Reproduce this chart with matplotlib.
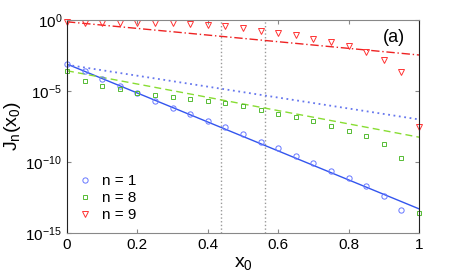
import numpy as np
import matplotlib
matplotlib.use("Agg")
import matplotlib.pyplot as plt

plt.rcParams['font.family'] = ['Liberation Sans', 'DejaVu Sans']
plt.rcParams['mathtext.default'] = 'regular'

x = [0, 0.05, 0.1, 0.15, 0.2, 0.25, 0.3, 0.35, 0.4, 0.45, 0.5, 0.55, 0.6,
     0.65, 0.7, 0.75, 0.8, 0.85, 0.9, 0.95, 1.0]
# log10 values
logJ1 = [-3.1, -3.6, -4.15, -4.65, -5.15, -5.67, -6.16, -6.6, -7.1, -7.53,
         -8.03, -8.57, -9.04, -9.55, -10.07, -10.6, -11.13, -11.7, -12.37, -13.36]
x1 = x[:20]
logJ8 = [-3.6, -4.3, -4.67, -4.88, -5.12, -5.28, -5.44, -5.56, -5.7, -5.87,
         -6.03, -6.34, -6.62, -6.83, -7.13, -7.44, -7.8, -8.19, -8.76, -9.7, -13.57]
logJ9 = [-0.12, -0.19, -0.19, -0.2, -0.2, -0.22, -0.24, -0.3, -0.33, -0.42,
         -0.56, -0.75, -0.92, -1.08, -1.32, -1.57, -1.85, -2.25, -2.82, -3.68, -7.53]

line_x = [0, 1]
fit1 = [-3.1, -13.3]
fit1_dotted = [-3.15, -7.0]
fit8 = [-3.57, -8.25]
fit9 = [-0.12, -2.46]
vlines = [0.4375, 0.5625]

blue = '#3355ee'
red = '#ee2222'

fig = plt.figure(figsize=(4.63, 2.79), dpi=100)
ax = fig.add_axes([0.1447, 0.165, 0.7603, 0.763])

for v in vlines:
    ax.axvline(v, color='#999999', linestyle=':', linewidth=1.0)

ax.plot(line_x, 10 ** np.array(fit1), color=blue, linewidth=1.0)
ax.plot(line_x, 10 ** np.array(fit1_dotted), color='#6677ee', linestyle=(0, (1, 2)), linewidth=1.3)
ax.plot(line_x, 10 ** np.array(fit8), color='#88dd33', linestyle=(0, (5, 3)), linewidth=1.0)
ax.plot(line_x, 10 ** np.array(fit9), color=red, linestyle=(0, (6, 2, 1, 2)), linewidth=1.0)

ax.plot(x1, 10 ** np.array(logJ1), 'o', mfc='none', mec='#6677ff', ms=3.8, mew=0.7, label='n = 1', clip_on=False)
ax.plot(x, 10 ** np.array(logJ8), 's', mfc='none', mec='#55bb33', ms=3.3, mew=0.7, label='n = 8', clip_on=False)
ax.plot(x, 10 ** np.array(logJ9), 'v', mfc='none', mec='#ff3333', ms=4.2, mew=0.7, label='n = 9', clip_on=False)

ax.set_yscale('log')
ax.set_xlim(0, 1)
ax.set_ylim(1e-15, 1e0)
ax.set_yticks([1e-15, 1e-10, 1e-5, 1e0])
ax.minorticks_off()
ax.set_xticks([0, 0.2, 0.4, 0.6, 0.8, 1])
ax.set_xticklabels(['0', '0.2', '0.4', '0.6', '0.8', '1'])
ax.tick_params(direction='in', top=True, right=True, labelsize=11, length=3, color='#888888')

for s in ['top', 'bottom']:
    ax.spines[s].set_color('#888888')
for s in ['left', 'right']:
    ax.spines[s].set_color('#222222')

ax.set_xlabel('x$_0$', fontsize=14, labelpad=2)
ax.set_ylabel('J$_n$(x$_0$)', fontsize=14, labelpad=2)
ax.text(0.96, 0.92, '(a)', transform=ax.transAxes, ha='right', va='center', fontsize=13)

leg = ax.legend(loc='lower left', frameon=False, fontsize=11, handletextpad=0.6,
                labelspacing=0.2, borderaxespad=0.3, bbox_to_anchor=(0.0, 0.0),
                handlelength=1.0)

fig.savefig('out.png', dpi=100)
